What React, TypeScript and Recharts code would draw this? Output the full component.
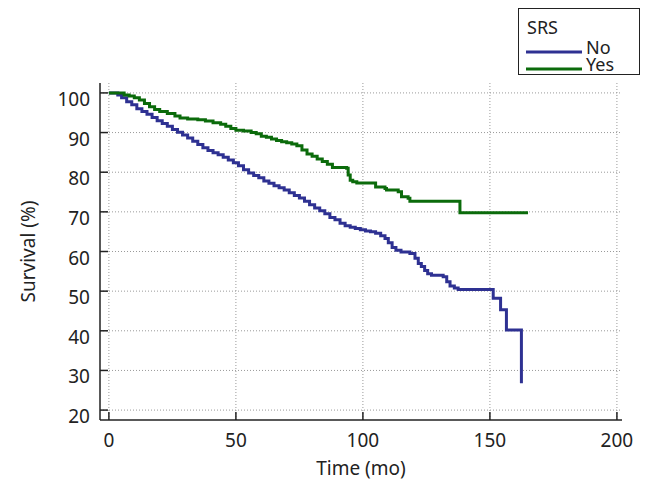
import React from 'react';
import { LineChart, Line, XAxis, YAxis, CartesianGrid, Legend, Label } from 'recharts';

// ---- data ----
const noTime = [0, 3.5, 5, 7, 9, 11, 13, 15, 17, 19, 21, 23, 25, 27, 29, 31, 33, 35, 37, 39, 41, 43, 45, 47, 49, 51, 53, 55, 57, 59, 61, 63, 65, 67, 69, 71, 73, 75, 77, 79, 81, 83, 85, 87, 89, 91, 93, 95, 97, 99, 101, 103, 105, 107, 108.7, 110, 111.5, 113, 115, 118.5, 120.5, 121.8, 123, 124.3, 125.5, 127, 131.6, 133, 134.3, 136, 137.5, 151.3, 154.2, 156.5, 162.4];
const noSurvival = [100, 99.5, 98.8, 97.8, 97, 96, 95.3, 94.6, 93.8, 93, 92.3, 91.6, 90.8, 90.1, 89.4, 88.6, 87.8, 87, 86.2, 85.5, 84.9, 84.4, 83.8, 83.1, 82.4, 81.6, 80.6, 79.8, 79.2, 78.6, 77.8, 77.2, 76.6, 76.1, 75.5, 74.8, 74.1, 73.5, 72.7, 71.8, 71, 70.3, 69.5, 68.6, 68, 67.1, 66.5, 66.1, 65.8, 65.5, 65.2, 65, 64.6, 64, 63.3, 62.2, 61, 60.3, 59.9, 59.5, 58.3, 57, 56.2, 55.2, 54.4, 54, 53.6, 52.4, 51.3, 50.8, 50.4, 48.2, 45.3, 40.2, 26.8];

const yesTime = [0, 5, 6, 8, 10, 12, 14, 16, 18, 20, 23, 26, 28, 31, 35, 38, 41, 44, 46, 48, 50, 53, 56, 58, 60, 62, 64, 66, 68, 70, 72, 74, 76, 78, 80, 82, 84, 86, 88, 93.6, 94.2, 95, 96, 97.6, 105, 108.7, 109.3, 113.9, 115.2, 117.8, 118.5, 138.2, 165];
const yesSurvival = [100, 100, 99.5, 99.2, 98.8, 98.2, 97.3, 96.5, 95.8, 95.3, 94.8, 94.2, 93.7, 93.4, 93.2, 92.9, 92.5, 92.1, 91.6, 91, 90.6, 90.4, 90, 89.7, 89.1, 88.8, 88.4, 88, 87.7, 87.4, 87.1, 86.7, 85.6, 84.6, 84, 83.3, 82.7, 82, 81.2, 81, 79.3, 78, 77.6, 77.3, 76.3, 75.9, 75.5, 75.1, 73.8, 73.4, 72.7, 69.8, 69.8];

const xTicks = [0, 50, 100, 150, 200];
const yMajorTicks = [20, 30, 40, 50, 60, 70, 80, 90, 100];
const yAllTicks = [20, 25, 30, 35, 40, 45, 50, 55, 60, 65, 70, 75, 80, 85, 90, 95, 100];

const seriesNames = ['No', 'Yes'];
const legendTitle = 'SRS';
const xLabel = 'Time (mo)';
const yLabel = 'Survival (%)';

const noData = noTime.map((t, i) => ({ t, s: noSurvival[i] }));
const yesData = yesTime.map((t, i) => ({ t, s: yesSurvival[i] }));

const BLUE = '#2e3192';
const GREEN = '#0b6b0b';
const FONT = '"Noto Sans", sans-serif';
const AXIS = '#222';

const YTick = (props: any) => {
  const { x, y, payload } = props;
  const v = payload.value;
  const major = v % 10 === 0;
  return (
    <g>
      {major ? (
        <line x1={x} x2={x + 8} y1={y} y2={y} stroke={AXIS} strokeWidth={1.5} />
      ) : (
        <line x1={x - 3} x2={x} y1={y} y2={y} stroke={AXIS} strokeWidth={1.5} />
      )}
      {major && (
        <text x={x - 10} y={y + 13} textAnchor="end" fontFamily={FONT} fontSize={19} fill="#222">
          {v}
        </text>
      )}
    </g>
  );
};

const XTick = (props: any) => {
  const { x, y, payload } = props;
  return (
    <g>
      <line x1={x} x2={x} y1={y} y2={y - 8} stroke={AXIS} strokeWidth={1.5} />
      <text x={x} y={y + 27} textAnchor="middle" fontFamily={FONT} fontSize={19} fill="#222">
        {payload.value}
      </text>
    </g>
  );
};

const LegendBox = () => (
  <svg width={122} height={68} style={{ display: 'block' }}>
    <rect x={0.5} y={0.5} width={121} height={66} fill="#fff" stroke="#222" strokeWidth={1} />
    <text x={9} y={26} fontFamily={FONT} fontSize={18} fill="#222">{legendTitle}</text>
    <line x1={8} x2={64} y1={44} y2={44} stroke={BLUE} strokeWidth={3} />
    <text x={68} y={46} fontFamily={FONT} fontSize={18} fill="#222">{seriesNames[0]}</text>
    <line x1={8} x2={64} y1={61} y2={61} stroke={GREEN} strokeWidth={3} />
    <text x={68} y={63} fontFamily={FONT} fontSize={18} fill="#222">{seriesNames[1]}</text>
  </svg>
);

export default function App() {
  return (
    <div style={{ position: 'absolute', left: 0, top: 0, width: 646, height: 488, background: '#fff' }}>
      <LineChart width={646} height={488} margin={{ top: 83, right: 24, left: 40, bottom: 28 }}>
        <CartesianGrid
          stroke="#9a9a9a"
          strokeDasharray="1 2"
          horizontalValues={yMajorTicks}
          verticalValues={xTicks}
        />
        <XAxis
          dataKey="t"
          type="number"
          domain={[-3.5, 202]}
          ticks={xTicks}
          allowDataOverflow
          tickSize={0}
          tickMargin={0}
          tickLine={false}
          height={40}
          axisLine={{ stroke: AXIS, strokeWidth: 1.5 }}
          tick={<XTick />}
        >
          <Label value={xLabel} position="center" dy={28} fontFamily={FONT} fontSize={19} fill="#222" />
        </XAxis>
        <YAxis
          type="number"
          domain={[17.5, 102.5]}
          ticks={yAllTicks}
          allowDataOverflow
          tickSize={0}
          tickMargin={0}
          tickLine={false}
          width={60}
          axisLine={{ stroke: AXIS, strokeWidth: 1.5 }}
          tick={<YTick />}
        >
          <Label value={yLabel} angle={-90} position="center" dx={-42} fontFamily={FONT} fontSize={19} fill="#222" />
        </YAxis>
        <Legend
          layout="vertical"
          align="center"
          verticalAlign="middle"
          wrapperStyle={{ left: 518, top: 8, width: 122, height: 68 }}
          content={() => <LegendBox />}
        />
        <Line
          data={noData}
          dataKey="s"
          name={seriesNames[0]}
          type="stepAfter"
          stroke={BLUE}
          strokeWidth={3}
          dot={false}
          isAnimationActive={false}
        />
        <Line
          data={yesData}
          dataKey="s"
          name={seriesNames[1]}
          type="stepAfter"
          stroke={GREEN}
          strokeWidth={3}
          dot={false}
          isAnimationActive={false}
        />
      </LineChart>
    </div>
  );
}
